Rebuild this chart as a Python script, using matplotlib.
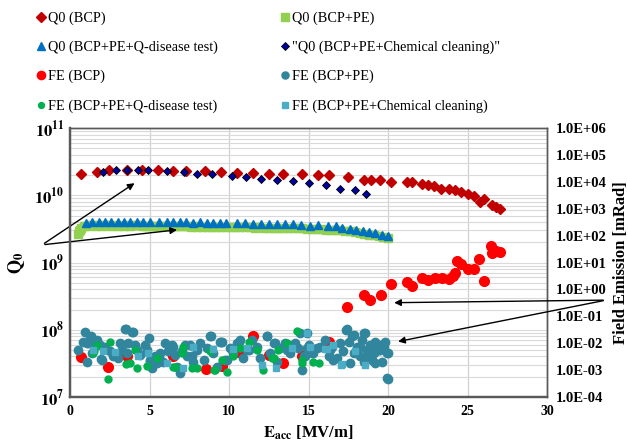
import numpy as np
import matplotlib
matplotlib.use("Agg")
import matplotlib.pyplot as plt
from matplotlib.ticker import FixedLocator, LogLocator, NullFormatter, FuncFormatter

plt.rcParams["font.family"] = ["Liberation Serif", "DejaVu Serif"]
plt.rcParams["mathtext.fontset"] = "stix"

# ---- Q0 data (left axis) ----
e_q_bcp = [0.7, 1.7, 2.45, 3.55, 4.5, 5.5, 6.5, 7.3, 8.5, 9.5, 10.5, 11.5, 12.5, 13.4, 14.6,
           15.6, 16.3, 17.5, 18.5, 18.9, 19.5, 20.2, 21.2, 21.5, 22.1, 22.5, 22.85, 23.3,
           23.85, 24.2, 24.6, 25.0, 25.4, 25.8, 26.0, 26.5, 26.8, 27.0]
q_bcp = [2.06e10, 2.23e10, 2.36e10, 2.4e10, 2.36e10, 2.36e10, 2.3e10, 2.3e10, 2.27e10, 2.23e10,
         2.16e10, 2.16e10, 2.1e10, 2.06e10, 2.06e10, 2.0e10, 2.0e10, 1.87e10, 1.71e10, 1.67e10,
         1.67e10, 1.58e10, 1.6e10, 1.58e10, 1.5e10, 1.45e10, 1.4e10, 1.26e10, 1.26e10, 1.19e10,
         1.12e10, 1.06e10, 9.8e9, 7.9e9, 8.9e9, 7.1e9, 6.7e9, 6.2e9]

e_q_pe = [0.5, 0.55, 0.6, 0.7, 0.85, 1.0, 1.2, 1.4, 1.6, 1.8, 2.0, 2.2, 2.4, 2.6, 2.8, 3.0, 3.2,
          3.4, 3.6, 3.8, 4.0, 4.2, 4.4, 4.6, 4.8, 5.0, 5.2, 5.4, 5.6, 5.8, 6.0, 6.2, 6.4, 6.6,
          6.8, 7.0, 7.2, 7.4, 7.6, 7.8, 8.0, 8.3, 8.6, 8.9, 9.2, 9.5, 9.8, 10.1, 10.4, 10.7,
          11.0, 11.3, 11.6, 11.9, 12.2, 12.5, 12.8, 13.1, 13.4, 13.7, 14.0, 14.3, 14.6, 14.9,
          15.2, 15.5, 15.8, 16.1, 16.4, 16.7, 17.0, 17.3, 17.6, 17.9, 18.2, 18.5, 18.8, 19.1,
          19.4, 19.7, 20.0]
q_pe = [2.7e9, 2.9e9, 3.1e9, 3.3e9, 3.5e9, 3.55e9, 3.6e9, 3.6e9, 3.55e9, 3.6e9, 3.55e9, 3.6e9,
        3.6e9, 3.55e9, 3.6e9, 3.55e9, 3.6e9, 3.55e9, 3.6e9, 3.55e9, 3.6e9, 3.65e9, 3.6e9,
        3.55e9, 3.5e9, 3.55e9, 3.5e9, 3.55e9, 3.5e9, 3.5e9, 3.45e9, 3.5e9, 3.45e9, 3.5e9,
        3.45e9, 3.45e9, 3.45e9, 3.45e9, 3.4e9, 3.45e9, 3.4e9, 3.4e9, 3.4e9, 3.4e9, 3.4e9,
        3.4e9, 3.35e9, 3.4e9, 3.35e9, 3.35e9, 3.35e9, 3.35e9, 3.3e9, 3.35e9, 3.3e9, 3.3e9,
        3.3e9, 3.3e9, 3.3e9, 3.25e9, 3.3e9, 3.25e9, 3.25e9, 3.2e9, 3.2e9, 3.2e9, 3.15e9,
        3.1e9, 3.1e9, 3.05e9, 3.0e9, 2.95e9, 2.9e9, 2.85e9, 2.75e9, 2.7e9, 2.6e9, 2.55e9,
        2.45e9, 2.4e9, 2.3e9]

e_q_qd = [1.0, 1.4, 1.8, 2.2, 2.6, 3.0, 3.4, 3.8, 4.2, 4.6, 5.0, 5.6, 6.1, 6.5, 6.9, 7.3, 7.7,
          8.2, 8.6, 9.0, 9.4, 9.8, 10.5, 11.0, 11.5, 12.0, 12.5, 13.0, 13.5, 14.0, 14.5, 15.1,
          15.6, 16.2, 16.7, 17.1, 17.6, 18.0, 18.4, 18.8, 19.2, 19.6, 20.0]
q_qd = [3.9e9, 4.0e9, 4.0e9, 4.0e9, 4.05e9, 4.0e9, 4.0e9, 4.05e9, 4.05e9, 4.0e9, 4.0e9, 3.95e9,
        4.0e9, 4.0e9, 3.95e9, 3.95e9, 3.9e9, 3.95e9, 3.9e9, 3.9e9, 3.9e9, 3.85e9, 3.85e9,
        3.85e9, 3.8e9, 3.8e9, 3.8e9, 3.75e9, 3.75e9, 3.7e9, 3.6e9, 3.55e9, 3.6e9, 3.5e9,
        3.45e9, 3.3e9, 3.2e9, 3.1e9, 2.95e9, 2.85e9, 2.75e9, 2.6e9, 2.45e9]

e_q_cc = [2.1, 2.87, 3.56, 4.26, 4.93, 6.08, 7.17, 7.97, 8.95, 10.2, 11.05, 12.0, 13.0, 14.0,
          15.05, 16.1, 17.0, 17.9, 18.6]
q_cc = [2.19e10, 2.4e10, 2.4e10, 2.4e10, 2.36e10, 2.3e10, 2.23e10, 2.1e10, 2.06e10, 1.94e10,
        1.87e10, 1.77e10, 1.71e10, 1.63e10, 1.55e10, 1.41e10, 1.26e10, 1.22e10, 1.04e10]

# ---- Field emission data (right axis, mRad) ----
e_fe_bcp = [0.67, 2.41, 3.56, 5.53, 6.5, 8.53, 9.54, 10.55, 11.53, 12.53, 13.4, 14.57, 16.25,
            17.44, 18.45, 18.87, 19.54, 20.17, 21.2, 21.5, 22.1, 22.5, 22.96, 23.4, 23.8,
            24.1, 24.2, 24.3, 24.6, 25.0, 25.4, 25.7, 26.0, 26.46, 26.5, 26.8, 27.0]
fe_bcp = [3.0e-3, 1.26e-3, 3.2e-3, 2.8e-3, 3.2e-3, 1.07e-3, 1.4e-3, 4.5e-3, 1.8e-2, 3.5e-3,
          1.9e-3, 3.4e-3, 1.15e-2, 0.22, 0.62, 0.39, 0.62, 1.66, 1.86, 1.32, 2.75, 2.3, 2.6,
          2.75, 2.5, 3.2, 4.2, 11.5, 8.7, 6.0, 6.0, 14.0, 2.0, 42.0, 22.0, 27.0, 25.0]

e_fe_pe = [0.52, 0.94, 1.05, 1.26, 1.09, 1.36, 1.47, 1.68, 1.89, 1.95, 2.2, 2.52, 2.73, 3.04,
           3.14, 3.46, 3.56, 3.67, 3.94, 4.09, 4.19, 4.4, 4.72, 4.82, 5.03, 5.14, 5.35, 5.45,
           5.66, 5.87, 5.97, 6.18, 6.39, 6.6, 6.71, 6.92, 7.02, 7.34, 7.55, 7.76, 7.97, 8.18,
           8.39, 8.6, 8.85, 9.01, 9.22, 9.5, 9.75, 10.06, 10.27, 10.48, 10.69, 10.9, 11.11,
           11.43, 11.74, 11.95, 12.37, 12.58, 12.79, 13.0, 13.21, 13.52, 13.84, 14.05, 14.36,
           14.47, 14.57, 14.78, 14.99, 15.3, 15.51,
           0.8, 1.15, 1.3, 2.0, 3.25, 3.52, 3.88, 4.99, 5.03, 5.66, 6.5, 6.92, 7.23, 7.65,
           8.8, 9.43, 9.85, 9.54, 10.59, 11.22, 12.41, 12.89, 13.63, 14.15, 14.89, 15.2,
           15.72, 16.56, 16.98, 17.36, 17.82, 18.45, 18.24, 18.66, 19.08, 19.5, 19.92, 19.92,
           17.61, 19.18, 16.35,
           14.68, 14.88, 16.04, 16.25, 16.46, 16.77, 17.15, 17.4, 17.51, 17.71, 17.82, 18.03,
           18.24, 18.34, 18.55, 18.87, 18.97, 19.08, 19.18, 19.39, 19.5, 19.6, 19.71, 19.81,
           19.96, 19.96, 18.45, 18.76]
fe_pe = [5.6e-3, 2.5e-2, 1.0e-2, 1.5e-2, 2.0e-3, 4.2e-3, 1.0e-2, 1.3e-2, 8.7e-3, 2.5e-3,
         7.5e-3, 4.9e-3, 3.2e-3, 2.8e-3, 1.0e-2, 3.3e-2, 4.2e-3, 1.0e-2, 2.7e-2, 8.7e-3,
         5.6e-3, 3.6e-3, 8.7e-3, 5.6e-3, 2.4e-3, 1.2e-3, 3.2e-3, 1.8e-3, 4.2e-3, 2.0e-3,
         1.0e-2, 4.9e-3, 8.7e-3, 3.6e-3, 1.3e-3, 1.0e-3, 4.9e-3, 3.2e-3, 8.7e-3, 2.0e-3,
         5.6e-3, 1.0e-2, 2.4e-3, 6.5e-3, 1.8e-2, 4.2e-3, 1.3e-3, 1.15e-2, 2.4e-3, 6.5e-3,
         4.2e-3, 1.0e-2, 1.3e-2, 2.8e-3, 5.6e-3, 1.3e-2, 7.5e-3, 2.8e-3, 1.8e-2, 4.2e-3,
         1.0e-2, 2.0e-3, 6.5e-3, 1.0e-2, 4.2e-3, 8.7e-3, 6.5e-3, 2.4e-2, 1.0e-3, 3.2e-3,
         8.7e-3, 4.2e-3, 6.5e-3,
         1.15e-2, 1.0e-2, 1.8e-2, 2.4e-3, 5.6e-3, 3.4e-2, 2.5e-2, 1.5e-2, 2.1e-3, 2.4e-3,
         7.5e-3, 7.6e-4, 8.7e-3, 3.2e-3, 1.8e-2, 1.15e-2, 2.4e-3, 1.1e-2, 1.15e-2, 5.6e-3,
         1.8e-2, 1.0e-2, 5.6e-3, 1.0e-2, 2.4e-2, 4.2e-3, 7.5e-3, 2.4e-3, 1.0e-2, 3.2e-2,
         2.0e-2, 2.4e-2, 7.5e-3, 5.6e-3, 7.5e-3, 5.6e-3, 4.2e-3, 4.9e-4, 1.8e-3, 1.8e-3,
         5.6e-3,
         3.2e-3, 6.5e-3, 1.3e-2, 3.2e-3, 7.5e-3, 2.8e-3, 4.9e-3, 3.4e-2, 1.15e-2, 1.8e-2,
         4.2e-3, 7.5e-3, 3.2e-3, 1.3e-2, 2.4e-2, 8.7e-3, 2.4e-3, 4.2e-3, 1.15e-2, 5.6e-3,
         8.7e-3, 2.0e-3, 7.5e-3, 1.15e-2, 4.5e-4, 4.2e-3, 2.0e-3, 3.6e-3]

e_fe_qd = [1.51, 1.68, 2.41, 2.52, 3.52, 4.09, 4.19, 4.82, 6.5, 7.02, 7.65, 7.97, 8.8, 9.12,
           9.54, 9.85, 10.27, 10.69, 11.22, 11.74, 12.16, 12.79, 13.63, 14.26, 14.57, 15.3,
           15.62, 1.47, 3.77, 5.45, 6.6, 7.13, 9.08, 12.7, 13.1, 14.6]
fe_qd = [4.9e-3, 8.7e-3, 4.7e-4, 1.15e-2, 1.7e-3, 5.6e-3, 1.15e-3, 1.4e-3, 1.26e-3, 4.2e-3,
         1.15e-3, 1.15e-3, 4.9e-3, 1.0e-3, 2.4e-3, 8.7e-4, 3.2e-3, 6.5e-3, 1.15e-2, 5.6e-3,
         1.0e-3, 2.8e-3, 1.0e-2, 2.8e-2, 1.8e-3, 2.0e-3, 1.9e-3, 4.2e-3, 1.8e-3, 2.8e-3,
         1.26e-3, 7.5e-3, 1.0e-3, 2.8e-3, 5.4e-3, 2.4e-3]

e_fe_cc = [1.47, 2.1, 2.83, 4.3, 4.88, 6.08, 7.76, 9.01, 7.13, 10.27, 11.11, 12.05, 12.96,
           13.94, 15.09, 16.14, 17.02, 17.92, 18.55, 14.88, 16.04, 17.09, 16.56]
fe_cc = [5.6e-3, 4.9e-3, 4.5e-3, 3.2e-3, 4.2e-3, 1.8e-3, 7.5e-3, 6.0e-3, 1.15e-3, 6.0e-3,
         6.5e-3, 1.55e-3, 1.15e-3, 6.5e-3, 7.5e-3, 6.0e-3, 1.55e-3, 4.9e-3, 1.55e-3, 2.4e-2,
         6.0e-3, 1.7e-3, 8.7e-3]

fig = plt.figure(figsize=(6.28, 4.42), dpi=100)
ax = fig.add_axes([0.1115, 0.102, 0.76, 0.608])
ax2 = ax.twinx()

h1, = ax.plot(e_q_bcp, q_bcp, "D", color="#C00000", ms=5.5, mec="#C00000", ls="none", label="Q0 (BCP)")
h2, = ax.plot(e_q_pe, q_pe, "s", color="#92D050", ms=6, mec="#92D050", ls="none", label="Q0 (BCP+PE)")
h3, = ax.plot(e_q_qd, q_qd, "^", color="#0070C0", ms=6, mec="#0070C0", ls="none",
              label="Q0 (BCP+PE+Q-disease test)")
h4, = ax.plot(e_q_cc, q_cc, "D", color="#0000A0", ms=4.5, mec="black", mew=0.6, ls="none",
              label='"Q0 (BCP+PE+Chemical cleaning)"')

h5, = ax2.plot(e_fe_bcp, fe_bcp, "o", color="#FF0000", ms=7, mec="#FF0000", ls="none", label="FE (BCP)")
h6, = ax2.plot(e_fe_pe, fe_pe, "o", color="#31859C", ms=6, mec="#31859C", ls="none", label="FE (BCP+PE)")
h7, = ax2.plot(e_fe_qd, fe_qd, "o", color="#00B050", ms=5, mec="#00B050", ls="none",
               label="FE (BCP+PE+Q-disease test)")
h8, = ax2.plot(e_fe_cc, fe_cc, "s", color="#4BACC6", ms=5, mec="#4BACC6", ls="none",
               label="FE (BCP+PE+Chemical cleaning)")

ax.set_xlim(0, 30)
ax.set_yscale("log")
ax.set_ylim(1e7, 1e11)
ax2.set_yscale("log")
ax2.set_ylim(1e-4, 1e6)

ax.xaxis.set_major_locator(FixedLocator([0, 5, 10, 15, 20, 25, 30]))
ax.yaxis.set_major_locator(LogLocator(base=10, numticks=10))
ax.yaxis.set_minor_locator(LogLocator(base=10, subs=np.arange(2, 10), numticks=20))
ax.yaxis.set_minor_formatter(NullFormatter())
ax.yaxis.set_major_formatter(FuncFormatter(lambda v, p: r"$\mathbf{10^{%d}}$" % round(np.log10(v))))
ax2.yaxis.set_major_locator(LogLocator(base=10, numticks=12))
ax2.yaxis.set_minor_locator(FixedLocator([]))
ax2.yaxis.set_major_formatter(FuncFormatter(lambda v, p: "1.0E%+03d" % round(np.log10(v))))

ax.grid(True, which="both", axis="y", color="#d9d9d9", lw=0.8)
ax.grid(True, which="major", axis="x", color="#d0d0d0", lw=0.9)
ax.set_axisbelow(True)

ax.tick_params(axis="both", which="both", length=0)
ax.tick_params(axis="y", labelsize=12, pad=4)
ax.tick_params(axis="x", labelsize=10, pad=6)
ax2.tick_params(axis="y", which="both", length=0, labelsize=10.5, pad=6)
for lab in ax.get_xticklabels() + ax2.get_yticklabels():
    lab.set_fontweight("bold")

for a in (ax, ax2):
    a.spines["left"].set_color("#595959")
    a.spines["bottom"].set_color("#595959")
    a.spines["left"].set_linewidth(1.6)
    a.spines["bottom"].set_linewidth(1.6)
    a.spines["top"].set_color("#595959")
    a.spines["right"].set_color("#595959")
    a.spines["top"].set_linewidth(1.0)
    a.spines["right"].set_linewidth(1.0)

ax.set_xlabel(r"$\mathbf{E_{acc}}$ [MV/m]", fontsize=12, fontweight="bold", labelpad=4)
ax.set_ylabel(r"$\mathbf{Q_0}$", fontsize=13)
ax.yaxis.set_label_coords(-0.09, 0.5)
ax2.set_ylabel("Field Emission [mRad]", fontsize=12, fontweight="bold")
ax2.yaxis.set_label_coords(1.138, 0.5)

# arrows pointing to the data groups
arrow = dict(arrowstyle="-|>", color="black", lw=1.0, mutation_scale=10)
ax.annotate("", xy=(4.2, 1.6e10), xytext=(0.067, 0.446), textcoords="figure fraction",
            arrowprops=arrow, annotation_clip=False)
ax.annotate("", xy=(6.9, 3.1e9), xytext=(0.067, 0.446), textcoords="figure fraction",
            arrowprops=arrow, annotation_clip=False)
ax2.annotate("", xy=(20.2, 0.32), xytext=(0.965, 0.321), textcoords="figure fraction",
             arrowprops=arrow, annotation_clip=False)
ax2.annotate("", xy=(20.45, 1.1e-2), xytext=(0.965, 0.321), textcoords="figure fraction",
             arrowprops=arrow, annotation_clip=False)

handles = [h1, h3, h5, h7, h2, h4, h6, h8]
fig.legend(handles=handles, labels=[h.get_label() for h in handles], ncol=2,
           loc="upper left", bbox_to_anchor=(0.039, 1.003), frameon=False,
           fontsize=10.3, handlelength=0.5, handletextpad=0.25, columnspacing=4.45,
           labelspacing=1.1, numpoints=1, markerscale=0.85)

fig.savefig("out.png", dpi=100)
